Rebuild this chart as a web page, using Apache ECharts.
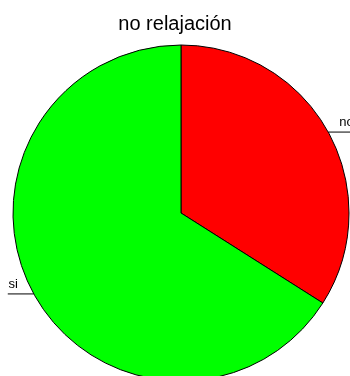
<!DOCTYPE html>
<html>
<head>
<meta charset="utf-8">
<script src="https://cdn.jsdelivr.net/npm/echarts@6/dist/echarts.min.js"></script>
<style>
  html, body { margin: 0; padding: 0; background: #fff; }
  #chart { width: 350px; height: 376px; }
</style>
</head>
<body>
<div id="chart"></div>
<script>
// Share of answers for "no relajación"
var categories = ['no', 'si'];
var values = [34, 66];
var colors = ['#FF0000', '#00FF00'];
var chartTitle = 'no relajación';

var chart = echarts.init(document.getElementById('chart'), null, { renderer: 'canvas' });

var data = categories.map(function (name, i) {
  return {
    name: name,
    value: values[i],
    itemStyle: { color: colors[i] },
    label: { distanceToLabelLine: i === 0 ? -13 : -10 },
    labelLine: { length: 0, length2: i === 0 ? 24 : 26 }
  };
});

chart.setOption({
  animation: false,
  backgroundColor: '#ffffff',
  title: {
    text: chartTitle,
    left: 'center',
    top: 9,
    textStyle: {
      fontFamily: 'Liberation Sans, Arial, sans-serif',
      fontSize: 20,
      fontWeight: 'normal',
      color: '#000000'
    }
  },
  series: [{
    type: 'pie',
    center: [181, 213],
    radius: 168,
    startAngle: 90,
    clockwise: true,
    avoidLabelOverlap: false,
    itemStyle: { borderColor: '#000000', borderWidth: 1 },
    emphasis: { disabled: true },
    label: {
      show: true,
      position: 'outside',
      // an empty second line lifts the name above its leader line
      formatter: '{b}\n ',
      fontFamily: 'Liberation Sans, Arial, sans-serif',
      fontSize: 13,
      lineHeight: 20,
      color: '#000000'
    },
    labelLine: {
      show: true,
      smooth: false,
      lineStyle: { color: '#000000', width: 1 }
    },
    data: data
  }]
});
</script>
</body>
</html>
